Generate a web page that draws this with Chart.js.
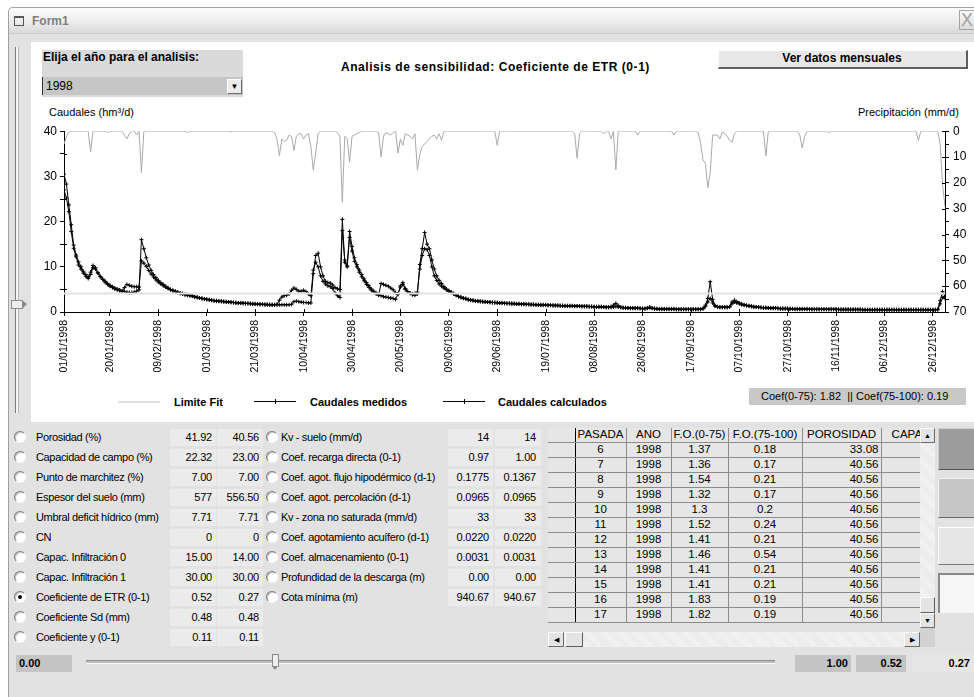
<!DOCTYPE html>
<html lang="es">
<head>
<meta charset="utf-8">
<title>Form1</title>
<script src="https://cdn.jsdelivr.net/npm/chart.js@4.4.1/dist/chart.umd.min.js"></script>
<style>
body { margin:0; width:974px; height:697px; position:relative; overflow:hidden; background:#fff;
  font-family:'Liberation Sans', Arial, sans-serif; font-size:11px; color:#000; }
.a { position:absolute; white-space:nowrap; }
.b { font-weight:bold; }
.radio { position:absolute; width:10px; height:10px; border-radius:50%; border:1px solid;
  border-color:#7c7c7c #fafafa #fafafa #7c7c7c; background:#fff; box-shadow:inset 1px 1px 0 #c4c4c4; }
.radio.on::after { content:''; position:absolute; left:3px; top:3px; width:4px; height:4px; border-radius:50%; background:#000; }
.lbl { position:absolute; height:14px; line-height:14px; letter-spacing:-0.35px; white-space:nowrap; }
.val { position:absolute; height:17px; line-height:17px; background:#ebebeb; text-align:right; box-sizing:border-box; padding-right:4px; letter-spacing:-0.2px; }
.btn3d { position:absolute; box-sizing:border-box; border:1px solid; border-color:#fdfdfd #5e5e5e #5e5e5e #fdfdfd; }
.box { position:absolute; height:17px; line-height:17px; font-weight:bold; text-align:right; box-sizing:border-box; padding-right:3px; }
.arrow { position:absolute; box-sizing:border-box; width:15px; height:15px; background:#e4e4e4; border:1px solid;
  border-color:#fdfdfd #6a6a6a #6a6a6a #fdfdfd; font-size:7px; line-height:13px; text-align:center; }
table { border-collapse:collapse; table-layout:fixed; font-size:11.5px; }
td { padding:0 2px; border-right:1px solid #8c8c8c; border-bottom:1px solid #8c8c8c; text-align:center;
  overflow:hidden; white-space:nowrap; background:#e6e6e6; line-height:13px; }
</style>
</head>
<body>

<!-- ventana -->
<div class="a" style="left:8px;top:7px;width:966px;height:690px;background:#e2e2e2;border-left:1px solid #a0a0a0;border-top:1px solid #a0a0a0;border-top-left-radius:5px;"></div>
<div class="a" style="left:9px;top:8px;width:965px;height:25px;background:linear-gradient(#fdfdfd,#ececec 55%,#d9d9d9);border-top-left-radius:4px;border-bottom:1px solid #cfcfcf;"></div>
<div class="a" style="left:14px;top:16px;width:8px;height:7px;border:1px solid #555;border-top-width:2px;"></div>
<div class="a b" style="left:32px;top:14px;font-size:12px;line-height:14px;color:#7e7e7e;">Form1</div>
<div class="a" style="left:959px;top:10px;width:16px;height:20px;box-sizing:border-box;border:1px solid #a4a4a4;background:linear-gradient(#fbfbfb,#dadada);color:#a0a0a0;font-size:18px;line-height:18px;text-align:center;">X</div>

<!-- barra vertical izquierda -->
<div class="a" style="left:15px;top:47px;width:2px;height:366px;border-left:1px solid #7c7c7c;border-right:1px solid #b4b4b4;background:#f4f4f4;"></div>
<div class="a" style="left:11px;top:300px;width:11px;height:7px;background:#ececec;border:1px solid #8a8a8a;border-right:none;"></div>
<div class="a" style="left:22px;top:300px;width:0;height:0;border-top:4px solid transparent;border-bottom:5px solid transparent;border-left:5px solid #8a8a8a;"></div>

<!-- panel del grafico -->
<div class="a" style="left:31px;top:42px;width:943px;height:380px;background:#fff;"></div>
<div class="a" style="left:42px;top:50px;width:201px;height:47px;background:#dadada;"></div>
<div class="a b" style="left:43px;top:50px;font-size:12px;line-height:15px;">Elija el año para el analisis:</div>
<div class="a" style="left:42px;top:77px;width:201px;height:18px;background:#c6c6c6;border-left:1px solid #333;box-sizing:border-box;"></div>
<div class="a" style="left:46px;top:77px;font-size:12px;line-height:18px;">1998</div>
<div class="a" style="left:227px;top:79px;width:15px;height:15px;box-sizing:border-box;background:#ececec;border:1px solid;border-color:#fff #6a6a6a #6a6a6a #fff;font-size:8px;line-height:13px;text-align:center;">&#9660;</div>

<div class="a b" style="left:341px;top:59px;font-size:12px;line-height:16px;letter-spacing:0.55px;">Analisis de sensibilidad: Coeficiente de ETR (0-1)</div>
<div class="btn3d" style="left:718px;top:50px;width:250px;height:19px;background:#e8e8e8;border-right-width:2px;border-bottom-width:2px;"></div>
<div class="a b" style="left:718px;top:50px;width:248px;text-align:center;font-size:12px;line-height:17px;">Ver datos mensuales</div>

<div class="a" style="left:49px;top:105px;font-size:11px;line-height:14px;">Caudales (hm³/d)</div>
<div class="a" style="left:858px;top:105px;font-size:11px;line-height:14px;">Precipitación (mm/d)</div>

<canvas id="grafico" class="a" style="left:31px;top:120px;" width="941" height="262"></canvas>

<!-- leyenda -->
<div class="a" style="left:118px;top:401px;width:42px;height:2px;background:#e0e0e0;"></div>
<div class="a b" style="left:174px;top:395px;line-height:14px;">Limite Fit</div>
<div class="a" style="left:254px;top:401px;width:42px;height:1px;background:#000;"></div>
<div class="a" style="left:275px;top:399px;width:1px;height:5px;background:#000;"></div>
<div class="a b" style="left:310px;top:395px;line-height:14px;">Caudales medidos</div>
<div class="a" style="left:443px;top:401px;width:42px;height:1px;background:#000;"></div>
<div class="a" style="left:464px;top:399px;width:1px;height:5px;background:#000;"></div>
<div class="a b" style="left:498px;top:395px;line-height:14px;">Caudales calculados</div>
<div class="a" style="left:749px;top:388px;width:217px;height:17px;background:#c8c8c8;"></div>
<div class="a" style="left:761px;top:388px;line-height:17px;font-size:11px;">Coef(0-75): 1.82 &nbsp;|| Coef(75-100): 0.19</div>

<!-- panel inferior -->
<div id="parametros"></div>
<div id="tabla" class="a" style="left:548px;top:428px;width:372px;height:195px;overflow:hidden;background:#e6e6e6;"></div>

<!-- barras de desplazamiento de la tabla -->
<div class="a" style="left:920px;top:428px;width:15px;height:200px;background:repeating-linear-gradient(45deg,#f4f4f4 0 1px,#e9e9e9 1px 2px);"></div>
<div class="arrow" style="left:920px;top:428px;">&#9650;</div>
<div class="btn3d" style="left:920px;top:597px;width:15px;height:16px;background:#e4e4e4;"></div>
<div class="arrow" style="left:920px;top:613px;">&#9660;</div>
<div class="a" style="left:548px;top:632px;width:372px;height:15px;background:repeating-linear-gradient(45deg,#f4f4f4 0 1px,#e9e9e9 1px 2px);"></div>
<div class="arrow" style="left:548px;top:632px;width:16px;">&#9664;</div>
<div class="btn3d" style="left:565px;top:632px;width:18px;height:15px;background:#e4e4e4;"></div>
<div class="arrow" style="left:904px;top:632px;width:16px;">&#9654;</div>
<div class="a" style="left:920px;top:628px;width:15px;height:19px;background:#d2d2d2;"></div>

<!-- botones de la derecha -->
<div class="btn3d" style="left:938px;top:428px;width:40px;height:42px;background:#9c9c9c;border-color:#cfcfcf #555 #555 #cfcfcf;"></div>
<div class="btn3d" style="left:938px;top:478px;width:40px;height:40px;background:#c6c6c6;border-color:#f0f0f0 #666 #666 #f0f0f0;"></div>
<div class="btn3d" style="left:938px;top:527px;width:40px;height:38px;background:#e6e6e6;border-color:#fff #777 #777 #fff;"></div>
<div class="a" style="left:938px;top:573px;width:40px;height:40px;box-sizing:border-box;background:#f6f6f6;border-left:2px solid #8a8a8a;border-top:2px solid #8a8a8a;"></div>

<!-- deslizador inferior -->
<div class="box" style="left:16px;top:655px;width:56px;background:#c4c4c4;text-align:left;padding-left:3px;">0.00</div>
<div class="a" style="left:86px;top:660px;width:689px;height:2px;background:#bdbdbd;border-top:1px solid #8a8a8a;border-bottom:1px solid #fafafa;"></div>
<div class="a" style="left:272px;top:654px;width:5px;height:12px;background:#efefef;border:1px solid #8a8a8a;border-bottom:none;"></div>
<div class="a" style="left:272px;top:666px;width:0;height:0;border-left:3.5px solid transparent;border-right:3.5px solid transparent;border-top:4px solid #8a8a8a;"></div>
<div class="box" style="left:795px;top:655px;width:56px;background:#c4c4c4;">1.00</div>
<div class="box" style="left:856px;top:655px;width:50px;background:#c4c4c4;padding-right:4px;">0.52</div>
<div class="box" style="left:912px;top:655px;width:62px;background:#e6e6e6;padding-right:4px;">0.27</div>

<script>
// Eje X: dias del año (indice del dia) donde se etiqueta la fecha
const diasTicks = [0, 19, 39, 59, 79, 99, 119, 139, 159, 179, 199, 219, 239, 259, 279, 299, 319, 339, 359];
const etiquetasFechas = ['01/01/1998', '20/01/1998', '09/02/1998', '01/03/1998', '21/03/1998', '10/04/1998',
    '30/04/1998', '20/05/1998', '09/06/1998', '29/06/1998', '19/07/1998', '08/08/1998', '28/08/1998',
    '17/09/1998', '07/10/1998', '27/10/1998', '16/11/1998', '06/12/1998', '26/12/1998'];

// Caudales diarios (hm3/d), 1998
const caudalesMedidos = [
    30.5, 28.3, 23.7, 19.3, 14.8, 12.6, 11.1, 10, 9, 8.3,
    7.7, 8.8, 10.3, 9.8, 8.7, 7.9, 7.3, 6.8, 6.3, 5.9,
    5.6, 5.3, 5.1, 4.9, 4.7, 4.5, 4.4, 4.3, 4.3, 4.4,
    4.6, 4.9, 16, 14, 12, 10.4, 9.2, 8.3, 7.6, 7,
    6.5, 6.1, 5.7, 5.3, 5, 4.8, 4.6, 4.4, 4.2, 4.1,
    3.9, 3.8, 3.7, 3.6, 3.4, 3.3, 3.1, 3, 2.9, 2.8,
    2.7, 2.6, 2.5, 2.5, 2.4, 2.4, 2.3, 2.3, 2.2, 2.2,
    2.1, 2.1, 2, 2, 2, 1.9, 1.9, 1.9, 1.8, 1.8,
    1.8, 1.7, 1.7, 1.7, 1.7, 1.6, 1.6, 1.6, 1.6, 1.6,
    1.6, 1.6, 1.6, 1.6, 1.7, 2.3, 2.4, 2.3, 2.2, 2.1,
    2.1, 2, 2, 8.5, 12.5, 13, 10, 8, 6.8, 6.5,
    6.4, 6, 5.4, 5.1, 5, 20.5, 11, 10, 17.8, 14.5,
    12, 10.5, 9.3, 8.3, 7.3, 6.5, 5.8, 5.1, 4.6, 4.2,
    3.9, 3.6, 3.4, 3.3, 3.2, 3.1, 3, 2.8, 4, 5.5,
    6.1, 5.2, 4.5, 4.1, 3.8, 3.7, 4, 10.5, 14, 17.6,
    15, 14, 11.5, 9.5, 8, 7, 6.3, 5.6, 5.1, 4.7,
    4.4, 4.1, 3.8, 3.5, 3.3, 3.1, 3, 2.8, 2.7, 2.6,
    2.5, 2.4, 2.4, 2.3, 2.3, 2.2, 2.2, 2.1, 2.1, 2.1,
    2, 2, 2, 1.9, 1.9, 1.9, 1.9, 1.8, 1.8, 1.8,
    1.8, 1.7, 1.7, 1.7, 1.7, 1.6, 1.6, 1.6, 1.6, 1.6,
    1.5, 1.5, 1.5, 1.5, 1.5, 1.4, 1.4, 1.4, 1.4, 1.4,
    1.4, 1.3, 1.3, 1.3, 1.3, 1.3, 1.3, 1.2, 1.2, 1.2,
    1.2, 1.2, 1.2, 1.1, 1.1, 1.1, 1.2, 1.5, 1.9, 1.4,
    1.1, 1, 1, 0.9, 0.9, 0.9, 0.9, 0.9, 0.8, 0.8,
    0.8, 0.9, 1.1, 0.9, 0.8, 0.7, 0.7, 0.7, 0.7, 0.7,
    0.7, 0.7, 0.7, 0.6, 0.6, 0.6, 0.6, 0.6, 0.6, 0.6,
    0.6, 0.6, 0.6, 0.6, 0.8, 1.5, 3, 6.7, 2.8, 1.4,
    1.2, 1.1, 1.1, 1.1, 1.1, 1.2, 2.2, 2.6, 2.3, 2,
    1.8, 1.6, 1.5, 1.4, 1.3, 1.2, 1.1, 1.1, 1, 1,
    1, 0.9, 0.9, 0.9, 0.9, 0.8, 0.8, 0.8, 0.8, 0.8,
    0.7, 0.7, 0.7, 0.7, 0.7, 0.7, 0.7, 0.7, 0.6, 0.6,
    0.6, 0.6, 0.6, 0.6, 0.6, 0.6, 0.6, 0.6, 0.6, 0.6,
    0.6, 0.6, 0.6, 0.6, 0.6, 0.6, 0.6, 0.6, 0.6, 0.6,
    0.5, 0.5, 0.5, 0.5, 0.5, 0.5, 0.5, 0.5, 0.5, 0.5,
    0.5, 0.5, 0.5, 0.5, 0.5, 0.5, 0.5, 0.5, 0.5, 0.5,
    0.5, 0.5, 0.5, 0.5, 0.5, 0.5, 0.5, 0.5, 0.5, 0.5,
    0.5, 0.6, 2.5, 4.5, 3.4
];

const caudalesCalculados = [
    27, 25.2, 22.2, 17.8, 14.1, 12.2, 10.4, 9.5, 8.6, 7.9,
    7.4, 8.3, 9.8, 9.5, 8.6, 7.8, 7.2, 6.6, 6.1, 5.7,
    5.4, 5.1, 4.9, 4.7, 4.6, 5.4, 6.1, 5.9, 5.7, 5.6,
    5.6, 5.5, 11.3, 10.8, 10.1, 9.2, 8.4, 7.7, 7.1, 6.6,
    6.2, 5.8, 5.5, 5.2, 4.9, 4.7, 4.5, 4.3, 4.1, 4,
    3.8, 3.7, 3.6, 3.5, 3.3, 3.2, 3.1, 3, 2.9, 2.8,
    2.7, 2.6, 2.5, 2.4, 2.4, 2.3, 2.3, 2.2, 2.2, 2.1,
    2.1, 2, 2, 2, 1.9, 1.9, 1.9, 1.8, 1.8, 1.8,
    1.7, 1.7, 1.7, 1.6, 1.6, 1.6, 1.6, 1.6, 1.7, 2.6,
    3.3, 3.6, 3.7, 4, 4.8, 5.3, 5, 4.6, 4.6, 4.8,
    4.5, 4, 3.6, 9.3, 11, 10, 8, 6.8, 6.2, 5.8,
    5.6, 5.2, 4.2, 3.6, 3.2, 18, 11.5, 10.2, 16.5, 13.5,
    11.2, 10, 8.8, 7.8, 6.9, 6.1, 5.4, 4.8, 4.4, 4,
    3.7, 6.3, 6.1, 5.9, 5.7, 5.3, 4.9, 4.3, 3.9, 5.8,
    6.5, 5, 4.5, 4.2, 4, 4.1, 4.4, 9.5, 12.5, 14,
    13.8, 12.5, 10, 8, 7, 6.2, 5.7, 5.3, 4.9, 4.6,
    4.3, 4, 3.7, 3.4, 3.2, 3, 2.9, 2.7, 2.6, 2.5,
    2.4, 2.4, 2.3, 2.3, 2.2, 2.2, 2.1, 2.1, 2.1, 2,
    2, 2, 1.9, 1.9, 1.9, 1.8, 1.8, 1.8, 1.8, 1.7,
    1.7, 1.7, 1.7, 1.6, 1.6, 1.6, 1.6, 1.5, 1.5, 1.5,
    1.5, 1.5, 1.4, 1.4, 1.4, 1.4, 1.4, 1.3, 1.3, 1.3,
    1.3, 1.3, 1.3, 1.3, 1.2, 1.2, 1.2, 1.2, 1.2, 1.1,
    1.1, 1.1, 1.1, 1.1, 1, 1, 1, 1.1, 1.2, 1.1,
    1, 0.9, 0.9, 0.9, 0.8, 0.8, 0.8, 0.8, 0.8, 0.7,
    0.7, 0.8, 0.9, 0.8, 0.7, 0.7, 0.6, 0.6, 0.6, 0.6,
    0.6, 0.6, 0.6, 0.6, 0.6, 0.6, 0.6, 0.6, 0.6, 0.6,
    0.6, 0.6, 0.6, 0.6, 0.7, 1.2, 2.2, 3, 2, 1.3,
    1.1, 1, 1, 1, 1, 1.1, 1.8, 2.2, 2, 1.8,
    1.6, 1.5, 1.4, 1.3, 1.2, 1.1, 1.1, 1, 1, 0.9,
    0.9, 0.9, 0.8, 0.8, 0.8, 0.8, 0.7, 0.7, 0.7, 0.7,
    0.7, 0.7, 0.6, 0.6, 0.6, 0.6, 0.6, 0.6, 0.6, 0.6,
    0.6, 0.6, 0.6, 0.6, 0.6, 0.6, 0.6, 0.6, 0.6, 0.6,
    0.5, 0.5, 0.5, 0.5, 0.5, 0.5, 0.5, 0.5, 0.5, 0.5,
    0.5, 0.5, 0.5, 0.5, 0.5, 0.5, 0.5, 0.5, 0.5, 0.5,
    0.5, 0.5, 0.5, 0.5, 0.5, 0.5, 0.5, 0.5, 0.5, 0.5,
    0.5, 0.5, 0.5, 0.5, 0.5, 0.5, 0.5, 0.5, 0.5, 0.5,
    0.5, 0.5, 1.8, 3.2, 3
];

// Precipitacion diaria (mm/d), eje derecho invertido
const precipitacion = [
    5, 2, 0.5, 0, 0, 0, 0, 0, 0, 0,
    0, 8, 0, 0, 0, 0, 0, 0, 0.5, 0,
    0, 0, 0, 0, 0, 1.5, 3, 1, 0, 0,
    1.5, 0, 16, 0, 0, 0, 0, 0, 0, 0,
    0, 0, 0, 0, 0, 0, 0, 0, 0, 0,
    0, 0.5, 0, 0, 0, 0, 0, 0, 0, 0,
    0, 0, 0, 0, 0, 0, 0, 0, 0, 0.3,
    0, 0, 0, 0, 0, 0, 0, 0, 0, 0,
    0, 0, 0, 0, 0, 0, 0, 0.5, 3, 9.5,
    3, 4, 3.5, 1.5, 2, 7.5, 2, 1, 1, 3,
    1.5, 1, 6, 15, 8.5, 1, 0, 0, 0, 0,
    0, 0, 0, 0.5, 2, 27.5, 2, 3, 12, 2,
    1.5, 1, 0.5, 0, 0, 0, 0, 0, 0, 0,
    0.5, 10, 2, 0.5, 1, 1.5, 0.5, 0, 8.5, 3,
    5.5, 1, 1.5, 2, 3, 1, 15, 9, 6, 5,
    4, 3, 2, 1.5, 3, 1, 3.5, 0, 0, 0,
    0, 0, 0, 0, 0, 0, 0, 0, 0, 0,
    0, 0, 0, 0, 0, 0, 0, 0, 0, 5.5,
    0, 0, 0, 0, 0, 0, 0, 0, 0, 0,
    0, 0, 0, 0, 0, 0, 0, 0, 0, 0,
    0, 0, 0, 0, 0, 0, 0, 0, 0, 0,
    0, 1, 10.5, 1, 0, 0, 0, 0, 0, 0,
    0, 0, 0, 1, 0, 0, 3, 0, 15, 0,
    0, 0, 0, 0, 0, 0, 0, 1.5, 0, 0,
    0, 0, 0, 0, 0, 0, 0, 0, 0, 0,
    0, 0, 1.5, 0, 0, 0, 0, 0, 0, 0,
    0, 0, 0.5, 4.5, 11, 12.5, 22, 16, 1.5, 1.5,
    1.5, 3, 0.3, 1, 2, 3.5, 4.3, 1, 0, 0,
    0, 0, 0, 0, 0, 0, 0, 0, 0, 0,
    9.5, 0, 0, 0, 0, 0, 0, 0, 0, 0,
    0, 0, 0, 0, 1.5, 6.5, 2, 0, 0, 0,
    0, 0, 0, 0, 0, 0, 0.5, 0, 0, 0,
    0, 0, 0, 0, 0, 0, 0, 0, 0, 0,
    0, 0, 0, 0, 0, 0, 0, 0, 0, 0,
    0, 0, 0, 0, 0, 0, 0, 0, 0, 0,
    0, 0, 0, 3.5, 0, 0, 0, 0, 0, 0,
    0, 0, 5, 21, 29
];

const limiteFit = 4.07;

// Parametros del modelo: [nombre, valor inicial, valor actual]
const parametrosIzq = [
    ['Porosidad (%)', '41.92', '40.56'],
    ['Capacidad de campo (%)', '22.32', '23.00'],
    ['Punto de marchitez (%)', '7.00', '7.00'],
    ['Espesor del suelo (mm)', '577', '556.50'],
    ['Umbral deficit hídrico (mm)', '7.71', '7.71'],
    ['CN', '0', '0'],
    ['Capac. Infiltración 0', '15.00', '14.00'],
    ['Capac. Infiltración 1', '30.00', '30.00'],
    ['Coeficiente de ETR (0-1)', '0.52', '0.27'],
    ['Coeficiente Sd (mm)', '0.48', '0.48'],
    ['Coeficiente y (0-1)', '0.11', '0.11']
];
const parametrosDer = [
    ['Kv - suelo (mm/d)', '14', '14'],
    ['Coef. recarga directa (0-1)', '0.97', '1.00'],
    ['Coef. agot. flujo hipodérmico (d-1)', '0.1775', '0.1367'],
    ['Coef. agot. percolación (d-1)', '0.0965', '0.0965'],
    ['Kv - zona no saturada (mm/d)', '33', '33'],
    ['Coef. agotamiento acuífero (d-1)', '0.0220', '0.0220'],
    ['Coef. almacenamiento (0-1)', '0.0031', '0.0031'],
    ['Profundidad de la descarga (m)', '0.00', '0.00'],
    ['Cota mínima (m)', '940.67', '940.67']
];
const parametroActivo = 'Coeficiente de ETR (0-1)';

// Tabla de pasadas
const columnasTabla = ['PASADA', 'ANO', 'F.O.(0-75)', 'F.O.(75-100)', 'POROSIDAD', 'CAPAC'];
const anchosTabla = [27, 51, 45, 57, 74, 79, 60];
const pasadas = [
    ['6', '1998', '1.37', '0.18', '33.08'],
    ['7', '1998', '1.36', '0.17', '40.56'],
    ['8', '1998', '1.54', '0.21', '40.56'],
    ['9', '1998', '1.32', '0.17', '40.56'],
    ['10', '1998', '1.3', '0.2', '40.56'],
    ['11', '1998', '1.52', '0.24', '40.56'],
    ['12', '1998', '1.41', '0.21', '40.56'],
    ['13', '1998', '1.46', '0.54', '40.56'],
    ['14', '1998', '1.41', '0.21', '40.56'],
    ['15', '1998', '1.41', '0.21', '40.56'],
    ['16', '1998', '1.83', '0.19', '40.56'],
    ['17', '1998', '1.82', '0.19', '40.56']
];

const fuente = "'Liberation Sans', Arial, sans-serif";
const dias = caudalesMedidos.map((v, i) => i);

// Build the parameter rows (two columns of radio + two values)
function buildParametros() {
    const cont = document.getElementById('parametros');
    let html = '';
    const filaY = i => 437 + i * 20;

    parametrosIzq.forEach(([nombre, v1, v2], i) => {
        const yc = filaY(i);
        const on = nombre === parametroActivo ? ' on' : '';
        html += `<div class="radio${on}" style="left:14px;top:${yc - 6}px"></div>`;
        html += `<div class="lbl" style="left:36px;top:${yc - 7}px">${nombre}</div>`;
        html += `<div class="val" style="left:170px;top:${yc - 8.5}px;width:46px">${v1}</div>`;
        html += `<div class="val" style="left:217px;top:${yc - 8.5}px;width:46px">${v2}</div>`;
    });

    parametrosDer.forEach(([nombre, v1, v2], i) => {
        const yc = filaY(i);
        html += `<div class="radio" style="left:266px;top:${yc - 6}px"></div>`;
        html += `<div class="lbl" style="left:281px;top:${yc - 7}px">${nombre}</div>`;
        html += `<div class="val" style="left:448px;top:${yc - 8.5}px;width:45px">${v1}</div>`;
        html += `<div class="val" style="left:495px;top:${yc - 8.5}px;width:46px;padding-right:5px">${v2}</div>`;
    });

    cont.innerHTML = html;
}

// Build the grid of runs
function buildTabla() {
    let html = '<table style="width:' + anchosTabla.reduce((a, b) => a + b, 0) + 'px"><colgroup>';
    anchosTabla.forEach(w => { html += `<col style="width:${w}px">`; });
    html += '</colgroup><tr style="height:14px"><td style="border-right-color:#000"></td>';
    columnasTabla.forEach(c => { html += `<td>${c}</td>`; });
    html += '</tr>';
    pasadas.forEach(fila => {
        html += '<tr style="height:15px"><td style="border-right-color:#000"></td>';
        fila.forEach((v, j) => {
            const estilo = j === 4 ? ' style="text-align:right"' : '';
            html += `<td${estilo}>${v}</td>`;
        });
        html += '<td></td></tr>';
    });
    html += '</table>';
    document.getElementById('tabla').innerHTML = html;
}

// Small tick stubs that cross the axes (x ticks and the minor 5-unit ticks)
const marcasCruzadas = {
    id: 'marcasCruzadas',
    afterDatasetsDraw(chart) {
        const { ctx, chartArea, scales } = chart;
        ctx.save();
        ctx.strokeStyle = '#000';
        ctx.lineWidth = 1;
        ctx.beginPath();
        scales.x.ticks.forEach(t => {
            const px = Math.round(scales.x.getPixelForValue(t.value)) + 0.5;
            ctx.moveTo(px, chartArea.bottom);
            ctx.lineTo(px, chartArea.bottom - 3);
        });
        scales.y.ticks.forEach(t => {
            if (t.value % 10 === 0) return;
            const py = Math.round(scales.y.getPixelForValue(t.value)) + 0.5;
            ctx.moveTo(chartArea.left, py);
            ctx.lineTo(chartArea.left + 3, py);
        });
        scales.y2.ticks.forEach(t => {
            if (t.value % 10 !== 0) return;
            const py = Math.round(scales.y2.getPixelForValue(t.value)) + 0.5;
            ctx.moveTo(chartArea.right, py);
            ctx.lineTo(chartArea.right - 3, py);
        });
        ctx.stroke();
        ctx.restore();
    }
};

function buildGrafico() {
    const ctx = document.getElementById('grafico').getContext('2d');
    const marcas = { drawOnChartArea: false, drawTicks: true, tickLength: 4, color: '#000' };

    new Chart(ctx, {
        type: 'line',
        data: {
            labels: dias,
            datasets: [
                {
                    label: 'Precipitación',
                    data: precipitacion,
                    yAxisID: 'y2',
                    borderColor: '#a9a9a9',
                    borderWidth: 1,
                    pointRadius: 0,
                    tension: 0
                },
                {
                    label: 'Limite Fit',
                    data: [{ x: 0, y: limiteFit }, { x: 364, y: limiteFit }],
                    yAxisID: 'y',
                    borderColor: '#e2e2e2',
                    borderWidth: 2,
                    pointRadius: 0
                },
                {
                    label: 'Caudales calculados',
                    data: caudalesCalculados,
                    yAxisID: 'y',
                    borderColor: '#000',
                    borderWidth: 1,
                    pointStyle: 'cross',
                    pointRadius: 2,
                    pointBorderColor: '#000',
                    pointBorderWidth: 1
                },
                {
                    label: 'Caudales medidos',
                    data: caudalesMedidos,
                    yAxisID: 'y',
                    borderColor: '#000',
                    borderWidth: 1,
                    pointStyle: 'cross',
                    pointRadius: 2,
                    pointBorderColor: '#000',
                    pointBorderWidth: 1
                }
            ]
        },
        options: {
            responsive: false,
            animation: false,
            layout: { padding: { top: 10 } },
            plugins: {
                legend: { display: false },
                tooltip: { enabled: false }
            },
            scales: {
                x: {
                    type: 'linear',
                    min: 0,
                    max: 364,
                    afterBuildTicks: s => { s.ticks = diasTicks.map(v => ({ value: v })); },
                    afterFit: s => { s.height = 70; },
                    ticks: {
                        autoSkip: false,
                        minRotation: 90,
                        maxRotation: 90,
                        padding: 4,
                        color: '#000',
                        font: { family: fuente, size: 10.5 },
                        callback: v => etiquetasFechas[diasTicks.indexOf(v)]
                    },
                    grid: marcas,
                    border: { color: '#000' }
                },
                y: {
                    position: 'left',
                    min: 0,
                    max: 40,
                    afterFit: s => { s.width = 33; },
                    ticks: {
                        stepSize: 5,
                        autoSkip: false,
                        padding: 3,
                        color: '#000',
                        font: { family: fuente, size: 12 },
                        callback: v => (v % 10 === 0 ? v : '')
                    },
                    grid: marcas,
                    border: { color: '#000' }
                },
                y2: {
                    position: 'right',
                    reverse: true,
                    min: 0,
                    max: 70,
                    afterFit: s => { s.width = 27; },
                    ticks: {
                        stepSize: 5,
                        autoSkip: false,
                        padding: 4,
                        color: '#000',
                        font: { family: fuente, size: 12 },
                        callback: v => (v % 10 === 0 ? v : '')
                    },
                    grid: marcas,
                    border: { color: '#000' }
                }
            }
        },
        plugins: [marcasCruzadas]
    });
}

buildParametros();
buildTabla();
buildGrafico();
</script>
</body>
</html>
